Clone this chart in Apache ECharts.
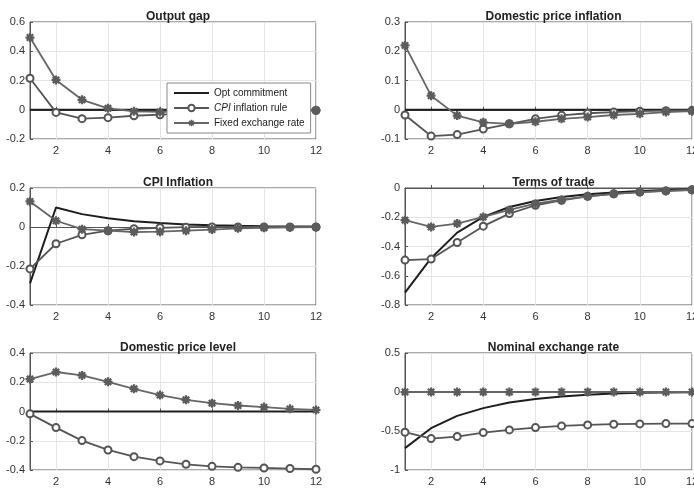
<!DOCTYPE html>
<html>
<head>
<meta charset="utf-8">
<script src="https://cdn.jsdelivr.net/npm/echarts@6/dist/echarts.min.js"></script>
<style>html,body{margin:0;padding:0;background:#fff}#c{width:694px;height:489px}</style>
</head>
<body>
<div id="c"></div>
<script>
const periods = [1,2,3,4,5,6,7,8,9,10,11,12];
const xTicks = [2,4,6,8,10,12];
const seriesNames = ['Opt commitment','CPI inflation rule','Fixed exchange rate'];
const panelTitles = ['Output gap','Domestic price inflation','CPI Inflation','Terms of trade','Domestic price level','Nominal exchange rate'];
const yMin = [-0.2,-0.1,-0.4,-0.8,-0.4,-1];
const yMax = [0.6,0.3,0.2,0,0.4,0.5];
const yStep = [0.2,0.1,0.2,0.2,0.2,0.5];

const outputGapOpt   = [0,0,0,0,0,0,0,0,0,0,0,0];
const outputGapCpi   = [0.215,-0.018,-0.061,-0.054,-0.041,-0.034,-0.027,-0.021,-0.016,-0.011,-0.008,-0.005];
const outputGapFixed = [0.494,0.204,0.068,0.01,-0.011,-0.015,-0.013,-0.01,-0.008,-0.006,-0.004,-0.003];

const domInflOpt   = [0,0,0,0,0,0,0,0,0,0,0,0];
const domInflCpi   = [-0.018,-0.09,-0.085,-0.066,-0.048,-0.031,-0.019,-0.012,-0.008,-0.005,-0.003,-0.002];
const domInflFixed = [0.22,0.048,-0.02,-0.043,-0.048,-0.041,-0.031,-0.025,-0.018,-0.014,-0.008,-0.005];

const cpiInflOpt   = [-0.289,0.1,0.066,0.045,0.03,0.02,0.013,0.009,0.006,0.004,0.003,0.002];
const cpiInflCpi   = [-0.215,-0.086,-0.04,-0.019,-0.009,-0.004,-0.001,0,0,0,0,0];
const cpiInflFixed = [0.131,0.032,-0.011,-0.019,-0.026,-0.024,-0.019,-0.013,-0.007,-0.004,-0.002,-0.001];

const totOpt   = [-0.716,-0.48,-0.305,-0.198,-0.13,-0.089,-0.061,-0.043,-0.03,-0.02,-0.014,-0.01];
const totCpi   = [-0.493,-0.486,-0.373,-0.261,-0.175,-0.118,-0.084,-0.057,-0.04,-0.028,-0.02,-0.012];
const totFixed = [-0.22,-0.266,-0.243,-0.198,-0.15,-0.107,-0.08,-0.057,-0.04,-0.028,-0.02,-0.014];

const priceLvlOpt   = [0,0,0,0,0,0,0,0,0,0,0,0];
const priceLvlCpi   = [-0.016,-0.11,-0.199,-0.263,-0.309,-0.338,-0.361,-0.375,-0.382,-0.386,-0.39,-0.395];
const priceLvlFixed = [0.222,0.27,0.247,0.203,0.155,0.112,0.08,0.057,0.041,0.03,0.018,0.011];

const nerOpt   = [-0.72,-0.464,-0.306,-0.207,-0.135,-0.09,-0.057,-0.036,-0.02,-0.01,-0.006,-0.002];
const nerCpi   = [-0.516,-0.597,-0.571,-0.52,-0.486,-0.456,-0.435,-0.422,-0.413,-0.409,-0.405,-0.405];
const nerFixed = [0,0,0,0,0,0,0,0,0,0,0,0];

const panelData = [
  [outputGapOpt, outputGapCpi, outputGapFixed],
  [domInflOpt, domInflCpi, domInflFixed],
  [cpiInflOpt, cpiInflCpi, cpiInflFixed],
  [totOpt, totCpi, totFixed],
  [priceLvlOpt, priceLvlCpi, priceLvlFixed],
  [nerOpt, nerCpi, nerFixed]
];

const FONT = '"Liberation Sans", Arial, sans-serif';
const asterisk = 'path://M-2.5,10L2.5,10L2.5,-10L-2.5,-10Z M-10,-2.5L-10,2.5L10,2.5L10,-2.5Z M5.3,8.84L8.84,5.3L-5.3,-8.84L-8.84,-5.3Z M8.84,-5.3L5.3,-8.84L-8.84,5.3L-5.3,8.84Z';

const lefts = [30, 405];
const widths = [286, 287];
const tops = [22, 188, 353];
const H = 117;

const grids = [], xAxes = [], yAxes = [], titles = [], series = [];
for (let i = 0; i < 6; i++) {
  const col = i % 2, row = Math.floor(i / 2);
  grids.push({left: lefts[col], top: tops[row], width: widths[col], height: H, show: true,
    borderColor: '#555', borderWidth: 1, backgroundColor: '#fff', containLabel: false, outerBoundsMode: 'none'});
  xAxes.push({
    type: 'value', gridIndex: i, min: 1, max: 12,
    axisLine: {show: true, lineStyle: {color: '#555', width: 1}},
    axisTick: {show: true, inside: true, length: 3, customValues: xTicks, lineStyle: {color: '#555'}},
    axisLabel: {customValues: xTicks, color: '#333', fontSize: 11, fontFamily: FONT, margin: 6, hideOverlap: false},
    splitLine: {show: true, lineStyle: {color: '#e4e4e4', width: 1}}
  });
  yAxes.push({
    type: 'value', gridIndex: i, min: yMin[i], max: yMax[i], interval: yStep[i],
    axisLine: {show: true, lineStyle: {color: '#555', width: 1}},
    axisTick: {show: true, inside: true, length: 3, lineStyle: {color: '#555'}},
    axisLabel: {color: '#333', fontSize: 11, fontFamily: FONT, margin: 5,
      formatter: v => String(Math.round(v * 10) / 10)},
    splitLine: {show: true, lineStyle: {color: '#e4e4e4', width: 1}}
  });
  titles.push({
    text: panelTitles[i], left: lefts[col] + widths[col] / 2, top: tops[row] - 16, textAlign: 'center',
    textStyle: {fontSize: 12, fontWeight: 'bold', color: '#222', fontFamily: FONT}
  });
  const d = panelData[i];
  series.push({
    name: seriesNames[0], type: 'line', xAxisIndex: i, yAxisIndex: i,
    data: periods.map((p, k) => [p, d[0][k]]), showSymbol: false, symbol: 'none',
    lineStyle: {color: '#1e1e1e', width: 2}, itemStyle: {color: '#1e1e1e'}, z: 3, animation: false
  });
  series.push({
    name: seriesNames[1], type: 'line', xAxisIndex: i, yAxisIndex: i,
    data: periods.map((p, k) => [p, d[1][k]]), symbol: 'emptyCircle', symbolSize: 7,
    lineStyle: {color: '#555', width: 1.8}, itemStyle: {color: '#555', borderColor: '#555', borderWidth: 1.6}, z: 4, animation: false
  });
  series.push({
    name: seriesNames[2], type: 'line', xAxisIndex: i, yAxisIndex: i,
    data: periods.map((p, k) => [p, d[2][k]]), symbol: asterisk, symbolSize: 9,
    lineStyle: {color: '#666', width: 1.8}, itemStyle: {color: '#5c5c5c'}, z: 5, animation: false
  });
}

const chart = echarts.init(document.getElementById('c'), null, {renderer: 'canvas'});
chart.setOption({
  animation: false,
  backgroundColor: '#fff',
  title: titles,
  grid: grids,
  xAxis: xAxes,
  yAxis: yAxes,
  legend: {
    data: [
      {name: seriesNames[0], itemStyle: {opacity: 0}},
      {name: seriesNames[1]},
      {name: seriesNames[2]}
    ],
    orient: 'vertical', left: 167, top: 83,
    backgroundColor: '#fff', borderColor: '#888', borderWidth: 1,
    padding: [5, 6, 5, 6], itemGap: 5, itemWidth: 35, itemHeight: 8,
    z: 20,
    formatter: n => n === 'CPI inflation rule' ? '{i|CPI} inflation rule' : n,
    textStyle: {fontSize: 10, color: '#222', fontFamily: FONT,
      rich: {i: {fontStyle: 'italic', fontSize: 10, color: '#222', fontFamily: FONT}}}
  },
  series: series
});
</script>
</body>
</html>
